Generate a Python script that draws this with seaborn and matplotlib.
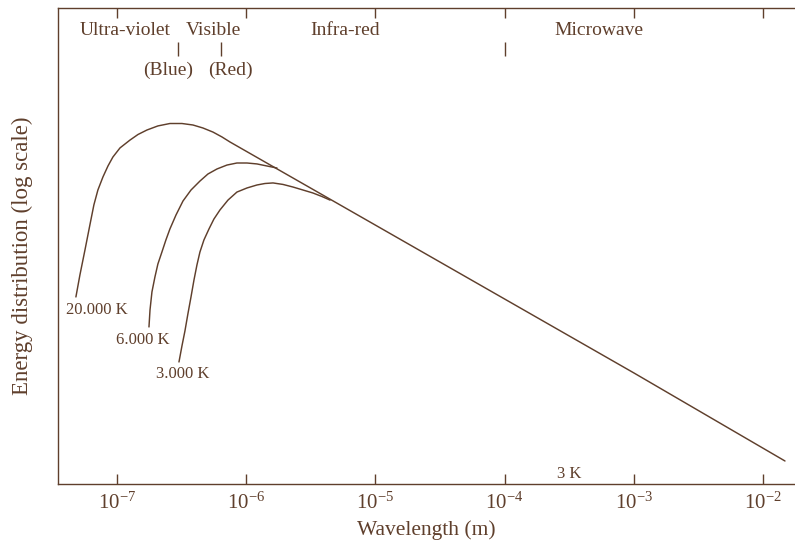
import numpy as np
import pandas as pd
import matplotlib
matplotlib.use("Agg")
import matplotlib.pyplot as plt
import seaborn as sns

# ---- data: log10 of wavelength (m) and log10 of energy (arbitrary units) ----
lwl_20000 = [-7.315, -7.284, -7.245, -7.207, -7.176, -7.145, -7.106, -7.067, -7.029,
             -6.974, -6.897, -6.835, -6.766, -6.681, -6.588, -6.495, -6.410, -6.333,
             -6.255, -6.186, -6.124, -5.0, -4.0, -3.0, -1.832]
le_20000 = [10.04, 11.22, 12.56, 13.90, 14.98, 15.78, 16.48, 17.07, 17.55,
            18.04, 18.46, 18.76, 19.00, 19.22, 19.35, 19.35, 19.27, 19.11,
            18.89, 18.63, 18.36, 13.90, 9.93, 5.96, 1.235]

lwl_6000 = [-6.750, -6.742, -6.727, -6.704, -6.681, -6.650, -6.619, -6.588, -6.541,
            -6.487, -6.425, -6.356, -6.294, -6.224, -6.147, -6.070, -5.992, -5.915,
            -5.838, -5.760]
le_6000 = [8.43, 9.34, 10.31, 11.11, 11.81, 12.45, 13.10, 13.69, 14.44,
           15.19, 15.78, 16.26, 16.64, 16.91, 17.12, 17.23, 17.23, 17.18,
           17.07, 16.96]

lwl_3000 = [-6.518, -6.495, -6.472, -6.449, -6.425, -6.402, -6.379, -6.356, -6.325,
            -6.286, -6.248, -6.201, -6.139, -6.070, -5.992, -5.915, -5.853, -5.791,
            -5.714, -5.636, -5.559, -5.482, -5.412, -5.350]
le_3000 = [6.55, 7.41, 8.21, 9.13, 10.04, 10.95, 11.76, 12.45, 13.10,
           13.69, 14.22, 14.71, 15.24, 15.67, 15.89, 16.05, 16.13, 16.16,
           16.08, 15.94, 15.78, 15.62, 15.43, 15.24]

curve_labels = ["20.000 K", "6.000 K", "3.000 K"]
x_ticks = [1e-7, 1e-6, 1e-5, 1e-4, 1e-3, 1e-2]
x_tick_labels = ["$10^{-7}$", "$10^{-6}$", "$10^{-5}$", "$10^{-4}$", "$10^{-3}$", "$10^{-2}$"]
x_limits = (3.52e-8, 1.76e-2)
y_limits_log = (0.0, 25.55)

band_names = ["Ultra-violet", "Visible", "Infra-red", "Microwave"]
band_centers = [1.162e-7, 5.56e-7, 5.89e-6, 5.32e-4]
color_names = ["(Blue)", "(Red)"]
color_centers = [2.49e-7, 7.52e-7]
boundary_marks = [3.0e-7, 6.4e-7, 1.0e-4]
cmb_label = "3 K"
cmb_pos = 3.15e-4

# ---- style ----
sns.set_theme(style="white")
INK = "#5f3f2c"
plt.rcParams["font.family"] = ["Liberation Serif", "DejaVu Serif"]
plt.rcParams["mathtext.fontset"] = "custom"
plt.rcParams["mathtext.rm"] = "Liberation Serif"
plt.rcParams["mathtext.it"] = "Liberation Serif:italic"
plt.rcParams["mathtext.bf"] = "Liberation Serif:bold"

fig = plt.figure(figsize=(7.95, 5.49), dpi=100)
ax = fig.add_axes([58 / 795, 65 / 549, 737 / 795, 476 / 549])

frames = []
for name, lwl, le in [(curve_labels[0], lwl_20000, le_20000),
                      (curve_labels[1], lwl_6000, le_6000),
                      (curve_labels[2], lwl_3000, le_3000)]:
    frames.append(pd.DataFrame({"wavelength": np.power(10.0, lwl),
                                "energy": np.power(10.0, le),
                                "T": name}))
df = pd.concat(frames, ignore_index=True)

for name in curve_labels:
    sub = df[df["T"] == name]
    sns.lineplot(data=sub, x="wavelength", y="energy", sort=False, estimator=None,
                 color=INK, linewidth=1.05, ax=ax, legend=False)
for ln in ax.get_lines():
    ln.set_solid_joinstyle("round")

ax.set_xscale("log")
ax.set_yscale("log")
ax.set_xlim(*x_limits)
ax.set_ylim(10 ** y_limits_log[0], 10 ** y_limits_log[1])

ax.set_xticks(x_ticks)
ax.set_xticklabels(x_tick_labels)
ax.xaxis.set_minor_locator(matplotlib.ticker.NullLocator())
ax.yaxis.set_minor_locator(matplotlib.ticker.NullLocator())
ax.set_yticks([])
ax.tick_params(axis="x", which="major", direction="in", top=True, bottom=True,
               length=7.5, width=1.0, color=INK, labelcolor=INK, labelsize=15, pad=6)

for s in ["left", "top", "bottom"]:
    ax.spines[s].set_color(INK)
    ax.spines[s].set_linewidth(1.0)
ax.spines["right"].set_visible(False)

ax.set_xlabel("Wavelength (m)", fontsize=15.5, color=INK)
ax.set_ylabel("Energy distribution (log scale)", fontsize=16.5, color=INK)
ax.xaxis.set_label_coords(0.5, -0.076)
ax.yaxis.set_label_coords(-0.034, 0.479)

# curve labels at the start of each curve
starts = [(lwl_20000[0], le_20000[0]), (lwl_6000[0], le_6000[0]), (lwl_3000[0], le_3000[0])]
offsets = [(21, -13), (-6, -13), (4, -12)]
for lab, (w, e), off in zip(curve_labels, starts, offsets):
    ax.annotate(lab, xy=(10 ** w, 10 ** e), xytext=off, textcoords="offset pixels",
                ha="center", va="center", fontsize=12, color=INK)

trans = ax.get_xaxis_transform()
for name, xc in zip(band_names, band_centers):
    ax.text(xc, 0.952, name, transform=trans, ha="center", va="center",
            fontsize=14, color=INK)
for name, xc in zip(color_names, color_centers):
    ax.text(xc, 0.869, name, transform=trans, ha="center", va="center",
            fontsize=14, color=INK)
ax.vlines(boundary_marks, 0.899, 0.929, transform=trans, color=INK, linewidth=1.0)
ax.text(cmb_pos, 0.021, cmb_label, transform=trans, ha="center", va="center",
        fontsize=12, color=INK)

fig.savefig("out.png", dpi=100, facecolor="white")
